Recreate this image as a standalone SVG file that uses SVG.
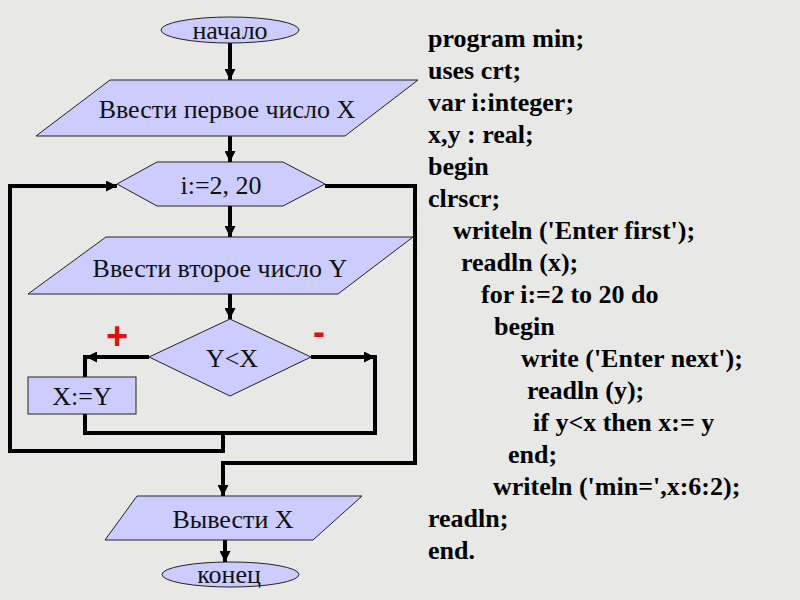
<svg xmlns="http://www.w3.org/2000/svg" width="800" height="600" viewBox="0 0 800 600">
<defs>
<marker id="arr" viewBox="0 0 10 10" refX="10" refY="5" markerWidth="11" markerHeight="11" markerUnits="userSpaceOnUse" orient="auto">
<path d="M0,0 L10,5 L0,10 z" fill="#000"/>
</marker>
<style>
.shape{fill:#ccccff;stroke:#222;stroke-width:1}
.lbl{font-family:"Liberation Serif","Times New Roman",serif;font-size:26px;fill:#111;text-anchor:middle}
.code{font-family:"Liberation Serif","Times New Roman",serif;font-size:26px;font-weight:bold;fill:#000}
.conn{fill:none;stroke:#000;stroke-width:4}
.sign{font-family:"Liberation Sans",Arial,sans-serif;font-weight:bold;fill:#e01010;text-anchor:middle}
</style>
</defs>
<rect x="0" y="0" width="800" height="600" fill="#e8e8e6"/>

<g id="connectors">
<line class="conn" x1="230" y1="43" x2="230" y2="80" marker-end="url(#arr)"/>
<line class="conn" x1="230" y1="136" x2="230" y2="162" marker-end="url(#arr)"/>
<line class="conn" x1="230" y1="206" x2="230" y2="237" marker-end="url(#arr)"/>
<line class="conn" x1="230" y1="294" x2="230" y2="319" marker-end="url(#arr)"/>
<line class="conn" x1="149" y1="357" x2="86" y2="357" marker-end="url(#arr)"/>
<polyline class="conn" points="85,355 85,377"/>
<line class="conn" x1="311" y1="357" x2="375" y2="357" marker-end="url(#arr)"/>
<polyline class="conn" points="375,355 375,433"/>
<polyline class="conn" points="85,414 85,433 377,433"/>
<polyline class="conn" points="223,433 223,451 10,451 10,186 117,186" marker-end="url(#arr)"/>
<polyline class="conn" points="325,186 415,186 415,463 223,463 223,496" marker-end="url(#arr)"/>
<line class="conn" x1="225" y1="540" x2="225" y2="562" marker-end="url(#arr)"/>
</g>

<g id="start">
<rect class="shape" x="161" y="17" width="138" height="26" rx="69" ry="13"/>
<text class="lbl" x="230" y="39">начало</text>
</g>
<g id="input1">
<polygon class="shape" points="110,80 418,80 345,136 36,136"/>
<text class="lbl" x="227" y="118">Ввести первое число X</text>
</g>
<g id="loop">
<polygon class="shape" points="117,184 157,162 283,162 325,184 283,206 157,206"/>
<text class="lbl" x="221" y="194">i:=2, 20</text>
</g>
<g id="input2">
<polygon class="shape" points="106,237 413,237 338,294 28,294"/>
<text class="lbl" x="220" y="277">Ввести второе число Y</text>
</g>
<g id="cond">
<polygon class="shape" points="230,319 311,357 230,396 149,357"/>
<text class="lbl" x="232" y="367">Y&lt;X</text>
</g>
<g id="assign">
<rect class="shape" x="28" y="377" width="108" height="37"/>
<text class="lbl" x="82" y="405">X:=Y</text>
</g>
<g id="output">
<polygon class="shape" points="137,496 362,496 313,540 105,540"/>
<text class="lbl" x="233" y="528">Вывести X</text>
</g>
<g id="end">
<rect class="shape" x="162" y="562" width="137" height="25" rx="68" ry="12.5"/>
<text class="lbl" x="229" y="583">конец</text>
</g>

<g id="signs">
<text class="sign" x="117" y="349" font-size="38">+</text>
<text class="sign" x="319" y="344" font-size="36">-</text>
</g>

<g id="code">
<text class="code" x="428" y="47">program min;</text>
<text class="code" x="428" y="79">uses crt;</text>
<text class="code" x="428" y="111">var i:integer;</text>
<text class="code" x="428" y="143">x,y : real;</text>
<text class="code" x="428" y="175">begin</text>
<text class="code" x="428" y="207">clrscr;</text>
<text class="code" x="453" y="239">writeln ('Enter first');</text>
<text class="code" x="461" y="271">readln (x);</text>
<text class="code" x="481" y="303">for i:=2 to 20 do</text>
<text class="code" x="494" y="335">begin</text>
<text class="code" x="521" y="367">write ('Enter next');</text>
<text class="code" x="527" y="399">readln (y);</text>
<text class="code" x="533" y="431">if y&lt;x then x:= y</text>
<text class="code" x="508" y="463">end;</text>
<text class="code" x="493" y="495">writeln ('min=',x:6:2);</text>
<text class="code" x="428" y="527">readln;</text>
<text class="code" x="428" y="559">end.</text>
</g>
</svg>
